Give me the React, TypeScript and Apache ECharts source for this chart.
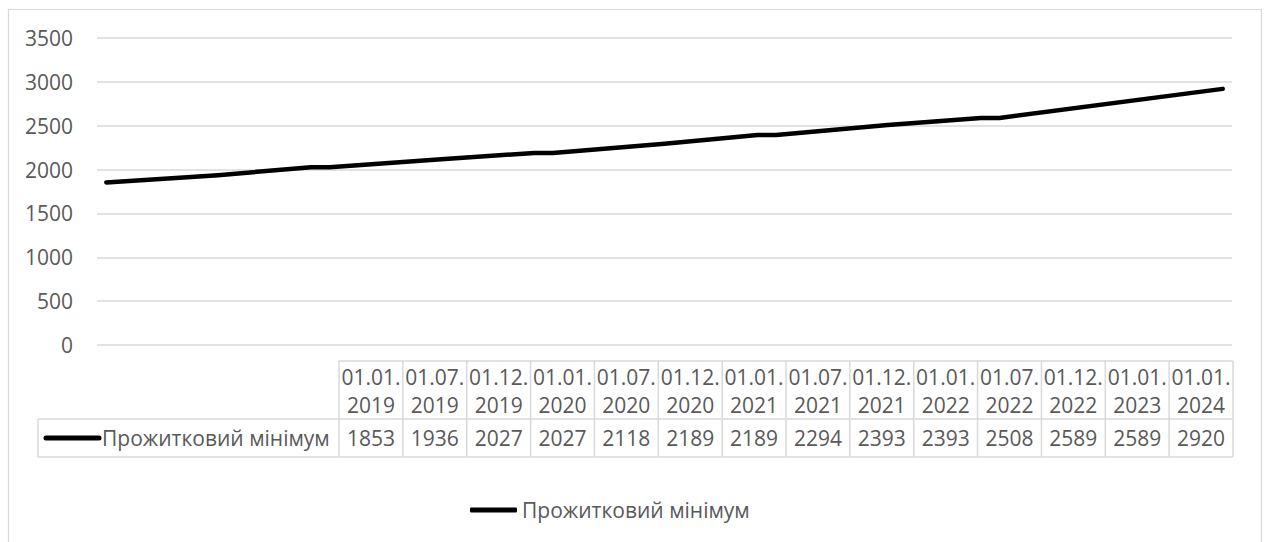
import React, { useEffect, useRef } from "react";
import * as echarts from "echarts";

const seriesName = "Прожитковий мінімум";
const dates = [
  "01.01.2019", "01.07.2019", "01.12.2019", "01.01.2020", "01.07.2020", "01.12.2020", "01.01.2021",
  "01.07.2021", "01.12.2021", "01.01.2022", "01.07.2022", "01.12.2022", "01.01.2023", "01.01.2024",
];
const values = [1853, 1936, 2027, 2027, 2118, 2189, 2189, 2294, 2393, 2393, 2508, 2589, 2589, 2920];
const yTicks = { min: 0, max: 3500, interval: 500 };

const FONT = "'Open Sans', 'Noto Sans', sans-serif";
const TEXT = "#595959";
const BORDER = "#d9d9d9";

function monthIndex(d: string): number {
  const [, mm, yyyy] = d.split(".");
  return parseInt(yyyy, 10) * 12 + (parseInt(mm, 10) - 1);
}

export default function App() {
  const ref = useRef<HTMLDivElement>(null);
  useEffect(() => {
    if (!ref.current) return;
    const chart = echarts.init(ref.current, undefined, { renderer: "svg" });
    const base = monthIndex(dates[0]);
    const points = dates.map((d, i) => [monthIndex(d) - base, values[i]]);
    const lastM = monthIndex(dates[dates.length - 1]) - base;

    // data table layout
    const n = dates.length;
    const tableLeft = 339;
    const tableRight = 1233;
    const colW = (tableRight - tableLeft) / n;
    const headTop = 361;
    const midY = 419;
    const botY = 457;
    const labelLeft = 38;
    const fs = 21;

    const graphics: any[] = [];
    graphics.push({
      type: "rect",
      shape: { x: 8.5, y: 9.5, width: 1253, height: 560 },
      style: { fill: "none", stroke: BORDER, lineWidth: 1.2 },
      silent: true,
    });
    const hl = (x1: number, x2: number, y: number) =>
      graphics.push({ type: "line", shape: { x1, y1: y, x2, y2: y }, style: { stroke: BORDER, lineWidth: 1.5 }, silent: true });
    const vl = (x: number, y1: number, y2: number) =>
      graphics.push({ type: "line", shape: { x1: x, y1, x2: x, y2 }, style: { stroke: BORDER, lineWidth: 1.5 }, silent: true });
    hl(tableLeft, tableRight, headTop);
    hl(labelLeft, tableRight, midY);
    hl(labelLeft, tableRight, botY);
    vl(labelLeft, midY, botY);
    for (let i = 0; i <= n; i++) vl(tableLeft + i * colW, headTop, botY);
    dates.forEach((d, i) => {
      const cx = tableLeft + (i + 0.5) * colW;
      const parts = d.split(".");
      graphics.push({
        type: "text",
        x: cx,
        y: 377,
        style: { text: parts[0] + "." + parts[1] + ".", fill: TEXT, font: `${fs}px ${FONT}`, align: "center", verticalAlign: "middle" },
        silent: true,
      });
      graphics.push({
        type: "text",
        x: cx,
        y: 405,
        style: { text: parts[2], fill: TEXT, font: `${fs}px ${FONT}`, align: "center", verticalAlign: "middle" },
        silent: true,
      });
      graphics.push({
        type: "text",
        x: cx,
        y: 438,
        style: { text: String(values[i]), fill: TEXT, font: `${fs}px ${FONT}`, align: "center", verticalAlign: "middle" },
        silent: true,
      });
    });
    graphics.push({
      type: "line",
      shape: { x1: 46, y1: 438, x2: 99, y2: 438 },
      style: { stroke: "#000", lineWidth: 5, lineCap: "round" },
      silent: true,
    });
    graphics.push({
      type: "text",
      x: 102,
      y: 438,
      style: { text: seriesName, fill: TEXT, font: `${fs}px ${FONT}`, align: "left", verticalAlign: "middle" },
      silent: true,
    });

    chart.setOption({
      animation: false,
      backgroundColor: "#fff",
      grid: { left: 97, right: 35, top: 38, bottom: 197, containLabel: false },
      xAxis: {
        type: "value",
        min: -0.5,
        max: lastM + 0.5,
        show: false,
        splitLine: { show: false },
      },
      yAxis: {
        type: "value",
        min: yTicks.min,
        max: yTicks.max,
        interval: yTicks.interval,
        axisLine: { show: false },
        axisTick: { show: false },
        axisLabel: { color: TEXT, fontSize: fs, fontFamily: FONT, margin: 24, formatter: (v: number) => String(v) },
        splitLine: { lineStyle: { color: BORDER, width: 1.5 } },
      },
      legend: {
        data: [seriesName],
        left: 470,
        top: 498,
        padding: 0,
        itemWidth: 47,
        itemHeight: 5,
        icon: "roundRect",
        textStyle: { color: TEXT, fontSize: fs, fontFamily: FONT, lineHeight: 24 },
      },
      series: [
        {
          name: seriesName,
          type: "line",
          data: points,
          symbol: "none",
          showSymbol: false,
          lineStyle: { color: "#000", width: 4.5, cap: "round", join: "round" },
          itemStyle: { color: "#000" },
        },
      ],
      graphic: graphics,
    });
    return () => chart.dispose();
  }, []);
  return <div ref={ref} style={{ position: "fixed", left: 0, top: 0, width: 1267, height: 542 }} />;
}
